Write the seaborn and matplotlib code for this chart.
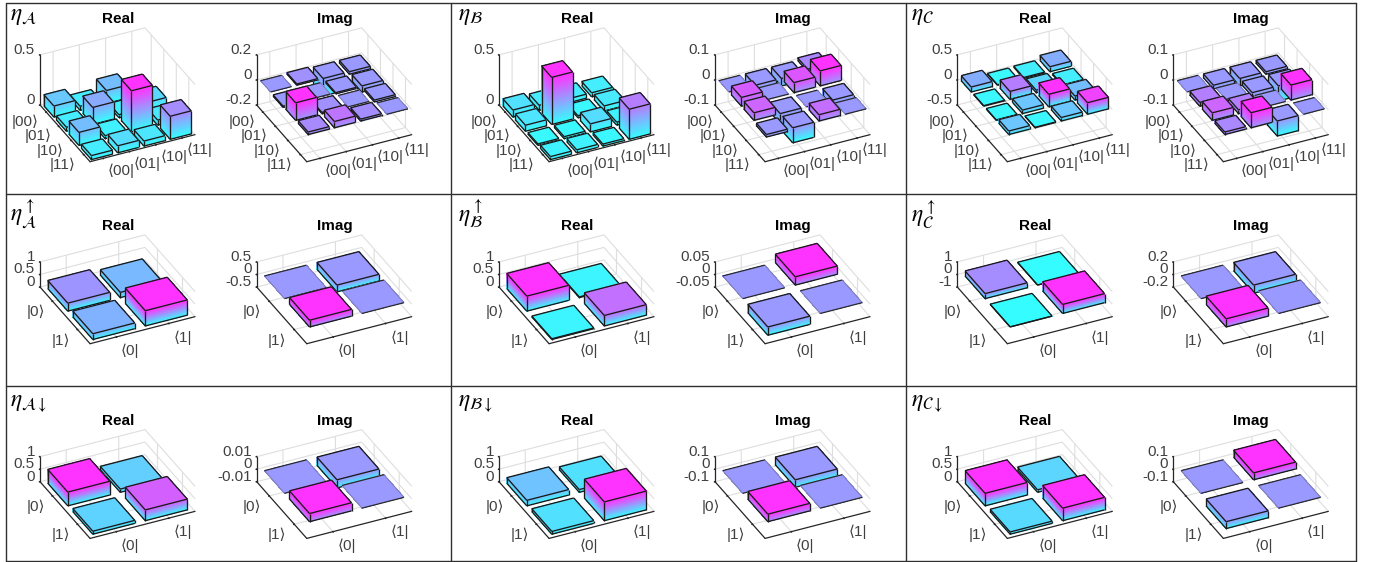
import numpy as np
import matplotlib
matplotlib.use("Agg")
import matplotlib.pyplot as plt
from matplotlib.lines import Line2D
from mpl_toolkits.mplot3d import proj3d
from mpl_toolkits.mplot3d.art3d import Poly3DCollection, Line3DCollection
import seaborn as sns

# values, rows top to bottom, columns left to right
a_re = [[.11, .04, .13, .04], [.04, .17, .03, .08], [.13, .03, .41, .05], [.04, .07, .05, .23]]
a_im = [[0, .01, -.14, -.02], [-.01, 0, -.01, -.05], [.14, .01, 0, -.015], [.02, .05, .015, 0]]
b_re = [[.07, .05, .04, .04], [.06, .47, .02, .05], [.015, .02, .08, .03], [.03, .03, .02, .30]]
b_im = [[0, -.035, -.03, .01], [.035, 0, .04, .06], [.03, -.04, 0, -.025], [-.01, -.06, .025, 0]]
c_re = [[.10, .01, .02, .10], [.01, .16, .05, .02], [.01, .07, .25, .08], [.07, .01, .07, .23]]
c_im = [[0, -.015, -.03, -.01], [.015, 0, -.015, -.06], [.03, .015, 0, .06], [.01, .06, -.06, 0]]

a_up_re = [[.32, .21], [.23, .61]]
a_up_im = [[0, -.27], [.27, 0]]
b_up_re = [[.60, .03], [.03, .42]]
b_up_im = [[0, .033], [-.033, 0]]
c_up_re = [[.40, .01], [.01, .72]]
c_up_im = [[0, -.13], [.13, 0]]

a_dn_re = [[.55, .13], [.12, .43]]
a_dn_im = [[0, -.0065], [.0065, 0]]
b_dn_re = [[.22, .11], [.11, .75]]
b_dn_im = [[0, -.06], [.06, 0]]
c_dn_re = [[.50, .10], [.09, .50]]
c_dn_im = [[0, .055], [-.055, 0]]

row_labels_2 = ["|00⟩", "|01⟩", "|10⟩", "|11⟩"]
col_labels_2 = ["⟨00|", "⟨01|", "⟨10|", "⟨11|"]
row_labels_1 = ["|0⟩", "|1⟩"]
col_labels_1 = ["⟨0|", "⟨1|"]

z_ticks_1 = [[0, .5], [-.2, 0, .2], [0, .5], [-.1, 0, .1], [-.5, 0, .5], [-.1, 0, .1]]
z_ticks_2 = [[0, .5, 1], [-.5, 0, .5], [0, .5, 1], [-.05, 0, .05], [-1, 0, 1], [-.2, 0, .2]]
z_ticks_3 = [[0, .5, 1], [-.01, 0, .01], [0, .5, 1], [-.1, 0, .1], [0, .5, 1], [-.1, 0, .1]]

letters = ["A", "B", "C"]

W, H = 1380, 562
sns.set_theme(style="white", rc={"grid.color": "#dedede", "grid.linewidth": 0.8})
plt.rcParams["font.family"] = ["Liberation Sans", "DejaVu Sans"]
plt.rcParams["mathtext.fontset"] = "stix"
plt.rcParams["axes.unicode_minus"] = False
cool = sns.color_palette("cool", as_cmap=True)

ELEV, AZIM = 32.7, -115.5
BAR = 0.4
SIDE = 116.0  # true floor side in pixels
X_LEN = 108.4  # the same side as it shows on screen
TEXT = "#404040"


def fx(px):
    return px / W


def fy(py):
    return 1 - py / H


def soft(t):
    # the reference colours are a little paler than plain cool
    return tuple(0.2 + 0.8 * np.array(cool(t)[:3]))


def draw_bars(ax, data):
    data = np.array(data, dtype=float)
    n = len(data)
    lo = min(data.min(), 0)
    hi = data.max()
    for r in range(n):
        for c in range(n - 1, -1, -1):
            v = data[r, c]
            x, y = c, n - 1 - r
            z0, z1 = min(v, 0), max(v, 0)
            x0, x1, y0, y1 = x - BAR, x + BAR, y - BAR, y + BAR
            faces, cols = [], []
            levels = np.linspace(z0, z1, 25)
            for a, b in zip(levels[:-1], levels[1:]):
                col = soft(((a + b) / 2 - lo) / (hi - lo))
                faces.append([(x0, y0, a), (x1, y0, a), (x1, y0, b), (x0, y0, b)])
                faces.append([(x0, y0, a), (x0, y1, a), (x0, y1, b), (x0, y0, b)])
                cols += [col, col]
            faces.append([(x0, y0, z1), (x1, y0, z1), (x1, y1, z1), (x0, y1, z1)])
            cols.append(soft((z1 - lo) / (hi - lo)))
            z = 10 + 2 * (r * n + (n - 1 - c))
            poly = Poly3DCollection(faces, facecolors=cols, edgecolors="none", linewidths=0,
                                    antialiased=False, zorder=z)
            ax.add_collection3d(poly, autolim=False)
            if abs(v) < 1e-9:
                dark = [[(x0, y0, z1), (x1, y0, z1)], [(x1, y1, z1), (x0, y1, z1)]]
                pale = [[(x1, y0, z1), (x1, y1, z1)], [(x0, y1, z1), (x0, y0, z1)]]
                ax.add_collection3d(Line3DCollection(pale, colors="#7f7fb8", linewidths=0.8, zorder=z + 1), autolim=False)
                ax.add_collection3d(Line3DCollection(dark, colors="#2a2a2a", linewidths=0.9, zorder=z + 1), autolim=False)
                continue
            segs = [
                [(x0, y0, z1), (x1, y0, z1)], [(x1, y0, z1), (x1, y1, z1)],
                [(x1, y1, z1), (x0, y1, z1)], [(x0, y1, z1), (x0, y0, z1)],
                [(x0, y0, z0), (x1, y0, z0)], [(x0, y0, z0), (x0, y1, z0)],
                [(x0, y0, z0), (x0, y0, z1)], [(x1, y0, z0), (x1, y0, z1)],
                [(x0, y1, z0), (x0, y1, z1)],
            ]
            ax.add_collection3d(Line3DCollection(segs, colors="#1a1a1a", linewidths=0.95, zorder=z + 1), autolim=False)


def screen(ax, pt):
    x, y, _ = proj3d.proj_transform(pt[0], pt[1], pt[2], ax.get_proj())
    return ax.transData.transform((x, y))


def panel(fig, data, ticks, rows, cols, left, floor_y, z_px):
    size = 260
    ax = fig.add_axes([fx(left - 60), fy(floor_y + 130), size / W, size / H],
                      projection="3d", computed_zorder=False)
    ax.patch.set_alpha(0)
    ax.set_proj_type("ortho")
    ax.view_init(elev=ELEV, azim=AZIM)
    n = len(data)
    ax.set_xlim(-.5, n - .5, view_margin=0)
    ax.set_ylim(-.5, n - .5, view_margin=0)
    ax.set_zlim(ticks[0], ticks[-1], view_margin=0)
    aspect = (1, 1, z_px / np.cos(np.radians(ELEV)) / SIDE)
    draw_bars(ax, data)

    ax.set_xticks(range(n))
    ax.set_xticklabels([""] * n)
    ax.set_yticks(range(n))
    ax.set_yticklabels([""] * n)
    ax.set_zticks(ticks)
    ax.set_zticklabels([""] * len(ticks))
    for axis in (ax.xaxis, ax.yaxis, ax.zaxis):
        axis.set_pane_color((1, 1, 1, 0))
        axis.pane.set_edgecolor("#dedede")
        axis.line.set_color("#262626")
        axis.line.set_linewidth(0.9)
        axis._axinfo["tick"]["inward_factor"] = 0.05
        axis._axinfo["tick"]["outward_factor"] = 0.0
        axis._axinfo["tick"]["color"] = "#262626"
    ax.grid(True)

    # scale and shift the box so the left corner of the floor lands on its spot
    ax.set_box_aspect(aspect)
    ax.apply_aspect()
    lo_z = ticks[0]
    a = screen(ax, (-.5, -.5, lo_z))
    b = screen(ax, (n - .5, -.5, lo_z))
    ax.set_box_aspect(aspect, zoom=X_LEN / np.hypot(*(b - a)))
    corner = screen(ax, (-.5, n - .5, lo_z))
    pos = ax.get_position()
    ax.set_position([pos.x0 + (left - corner[0]) / W, pos.y0 + ((H - floor_y) - corner[1]) / H,
                     pos.width, pos.height])

    # tick labels sit off the ticks the same way in every panel
    row_off, col_off = ((-21, -10), (18, -12)) if n == 4 else ((-17, -11), (14, -14))
    for k, lab in enumerate(rows):
        p = screen(ax, (-.5, n - 1 - k, lo_z))
        fig.text((p[0] + row_off[0]) / W, (p[1] + row_off[1]) / H, lab, ha="center", va="center",
                 fontsize=11, color=TEXT)
    for k, lab in enumerate(cols):
        p = screen(ax, (k, -.5, lo_z))
        fig.text((p[0] + col_off[0]) / W, (p[1] + col_off[1]) / H, lab, ha="center", va="center",
                 fontsize=11, color=TEXT)
    for t in ticks:
        p = screen(ax, (-.5, n - .5, t))
        fig.text((p[0] - 5) / W, (p[1] + 5) / H, f"{t:g}", ha="right", va="center",
                 fontsize=11, color=TEXT)
    return ax


fig = plt.figure(figsize=(W / 100, H / 100), dpi=100)

real_x = [40, 499, 957.3]
imag_x = [256.7, 715, 1173.3]
floor_ys = [105, 287, 481.7]
title_ys = [19, 226, 421]
label_ys = [16, 214, 404]
label_x = [10, 458, 911]

grid_rows = [
    ([a_re, a_im, b_re, b_im, c_re, c_im], z_ticks_1, row_labels_2, col_labels_2, 50),
    ([a_up_re, a_up_im, b_up_re, b_up_im, c_up_re, c_up_im], z_ticks_2, row_labels_1, col_labels_1, 25),
    ([a_dn_re, a_dn_im, b_dn_re, b_dn_im, c_dn_re, c_dn_im], z_ticks_3, row_labels_1, col_labels_1, 25),
]

for i, (datasets, ticks, rows, cols, z_px) in enumerate(grid_rows):
    for j in range(3):
        panel(fig, datasets[2 * j], ticks[2 * j], rows, cols, real_x[j], floor_ys[i], z_px)
        panel(fig, datasets[2 * j + 1], ticks[2 * j + 1], rows, cols, imag_x[j], floor_ys[i], z_px)
        fig.text(fx(real_x[j] + 78), fy(title_ys[i]), "Real", ha="center", va="center",
                 fontsize=11, fontweight="bold", color="black")
        fig.text(fx(imag_x[j] + 78), fy(title_ys[i]), "Imag", ha="center", va="center",
                 fontsize=11, fontweight="bold", color="black")
        name = r"\mathcal{%s}" % letters[j]
        if i == 0:
            txt = r"$\eta_{%s}$" % name
        elif i == 1:
            txt = r"$\eta^{\uparrow}_{%s}$" % name
        else:
            txt = r"$\eta_{%s\downarrow}$" % name
        fig.text(fx(label_x[j]), fy(label_ys[i]), txt, ha="left", va="center", fontsize=17, color="black")

# table frame
for py in [3, 194, 386, 561]:
    fig.add_artist(Line2D([fx(6), fx(1356)], [fy(py), fy(py)], color="#303030", lw=1.0))
for px in [6, 451, 906, 1356]:
    fig.add_artist(Line2D([fx(px), fx(px)], [fy(3), fy(561)], color="#303030", lw=1.0))

fig.savefig("out.png", dpi=100)
